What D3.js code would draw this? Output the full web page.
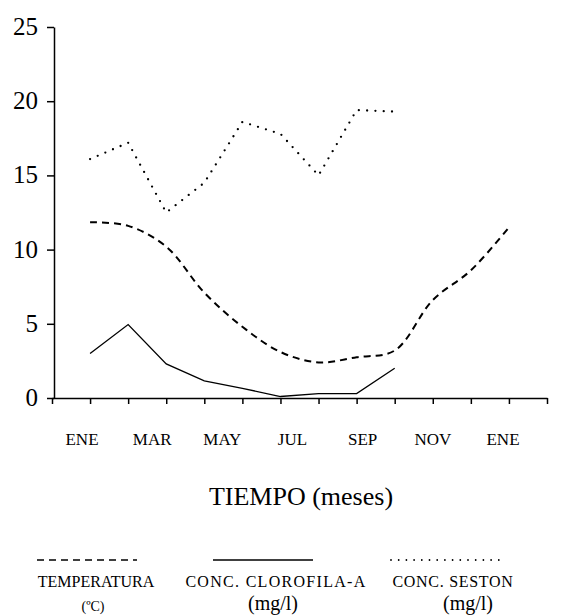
<!DOCTYPE html>
<html>
<head>
<meta charset="utf-8">
<script src="https://cdn.jsdelivr.net/npm/d3@7"></script>
<style>
  html, body { margin: 0; padding: 0; background: #fff; }
  svg { display: block; }
</style>
</head>
<body>
<svg id="chart" width="564" height="615" font-family="Liberation Serif"></svg>
<script>
// Month index along the axis: 0 = DIC (previous year), 1 = ENE ... 13 = ENE (next year)
const tickMonths = d3.range(0, 14);
const monthLabels = ["ENE", "MAR", "MAY", "JUL", "SEP", "NOV", "ENE"];
const yTicks = [0, 5, 10, 15, 20, 25];

// Temperatura (ºC), ENE..DIC
const tempMonths = [1, 2, 3, 4, 5, 6, 7, 8, 9, 10, 11, 12];
const tempValues = [11.85, 11.6, 10.2, 7.1, 4.8, 3.1, 2.4, 2.75, 3.2, 6.6, 8.6, 11.5];

// Conc. clorofila-a (mg/l), ENE..SEP
const chlMonths = [1, 2, 3, 4, 5, 6, 7, 8, 9];
const chlValues = [3.0, 4.95, 2.3, 1.15, 0.65, 0.1, 0.3, 0.3, 2.0];

// Conc. seston (mg/l), ENE..SEP
const sestonMonths = [1, 2, 3, 4, 5, 6, 7, 8, 9];
const sestonValues = [16.1, 17.2, 12.5, 14.5, 18.6, 17.8, 15.0, 19.4, 19.3];

const FONT = "Liberation Serif";
const svg = d3.select("#chart");

const x = d3.scaleLinear().domain([0, 13]).range([52, 547]);
const y = d3.scaleLinear().domain([0, 25]).range([398, 27]);
// month names are typeset on their own, evenly spread along the axis
const xLabel = d3.scaleLinear().domain([0, monthLabels.length - 1]).range([82, 503]);

// Y axis
const yAxis = d3.axisLeft(y).tickValues(yTicks).tickSize(7).tickSizeOuter(0).tickPadding(9)
  .tickFormat(d3.format("d"));
const gy = svg.append("g").attr("transform", `translate(${x(0) + 2},0)`).call(yAxis)
  .attr("font-family", FONT).attr("font-size", 25);
gy.selectAll("path, line").attr("stroke", "#000").attr("stroke-width", 1.5);
gy.selectAll("text").attr("fill", "#000").attr("dy", "0.3em");

// X axis
const xAxis = d3.axisBottom(x).tickValues(tickMonths).tickSize(6).tickSizeOuter(0).tickFormat("");
const gx = svg.append("g").attr("transform", `translate(0,${y(0)})`).call(xAxis);
gx.selectAll("path, line").attr("stroke", "#000").attr("stroke-width", 1.5);

// month names
svg.append("g").attr("font-family", FONT).attr("font-size", 17)
  .selectAll("text").data(monthLabels).join("text")
  .attr("x", (d, i) => xLabel(i))
  .attr("y", 445)
  .attr("text-anchor", "middle")
  .text(d => d);

// axis title
svg.append("text").attr("x", 301).attr("y", 505).attr("text-anchor", "middle")
  .attr("font-family", FONT).attr("font-size", 26).text("TIEMPO (meses)");

// series lines
const tempLine = d3.line().x(d => x(d[0])).y(d => y(d[1])).curve(d3.curveCatmullRom.alpha(0.5));
const straight = d3.line().x(d => x(d[0])).y(d => y(d[1]));

svg.append("path")
  .datum(d3.zip(tempMonths, tempValues))
  .attr("d", tempLine)
  .attr("fill", "none").attr("stroke", "#000").attr("stroke-width", 2)
  .attr("stroke-dasharray", "7,5");

svg.append("path")
  .datum(d3.zip(chlMonths, chlValues))
  .attr("d", straight)
  .attr("fill", "none").attr("stroke", "#000").attr("stroke-width", 1.3);

svg.append("path")
  .datum(d3.zip(sestonMonths, sestonValues))
  .attr("d", straight)
  .attr("fill", "none").attr("stroke", "#000").attr("stroke-width", 2.3)
  .attr("stroke-linecap", "round")
  .attr("stroke-dasharray", "0,8.3");

// legend
const legend = svg.append("g").attr("font-family", FONT);
const legendY = 560;
legend.append("line").attr("x1", 37).attr("x2", 137).attr("y1", legendY).attr("y2", legendY)
  .attr("stroke", "#000").attr("stroke-width", 1.3).attr("stroke-dasharray", "7,5");
legend.append("line").attr("x1", 213).attr("x2", 313).attr("y1", legendY).attr("y2", legendY)
  .attr("stroke", "#000").attr("stroke-width", 1.5);
legend.append("line").attr("x1", 391).attr("x2", 506).attr("y1", legendY).attr("y2", legendY)
  .attr("stroke", "#000").attr("stroke-width", 1.8).attr("stroke-linecap", "round")
  .attr("stroke-dasharray", "0,7.7");

const small = (tx, ty, size, str, spacing) => legend.append("text").attr("x", tx).attr("y", ty)
  .attr("text-anchor", "middle").attr("font-size", size)
  .attr("letter-spacing", spacing || 0).text(str);

small(96, 587, 16, "TEMPERATURA", 0);
small(93, 611, 14, "(ºC)");
small(276, 587, 16, "CONC. CLOROFILA-A", 1.3);
small(273, 610, 20, "(mg/l)");
small(453, 587, 16, "CONC. SESTON", 0.7);
small(468, 610, 20, "(mg/l)");
</script>
</body>
</html>
